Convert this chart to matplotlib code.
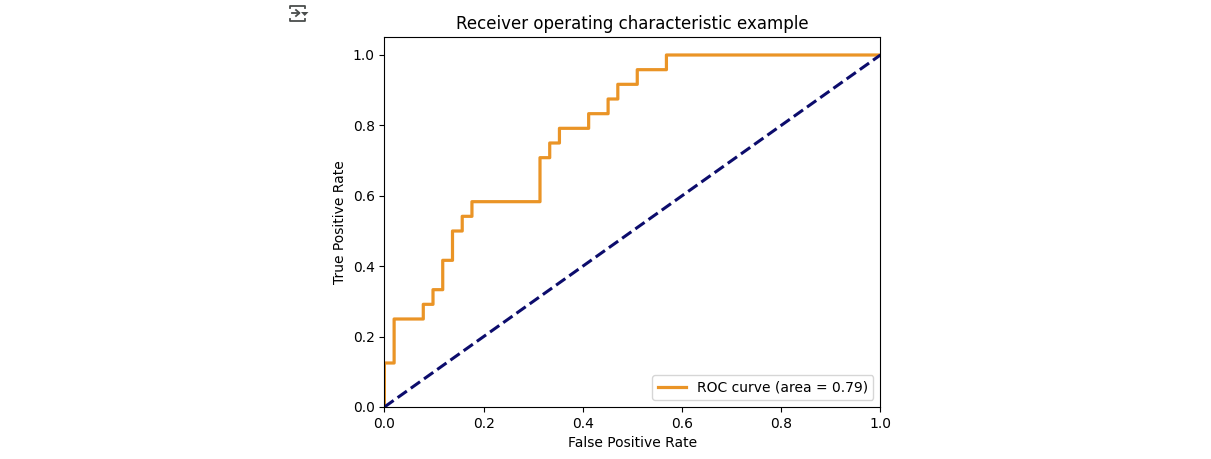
import matplotlib
matplotlib.use("Agg")
import matplotlib.pyplot as plt
from matplotlib.lines import Line2D
from matplotlib.patches import Polygon

fpr = [0, 0, 0.0196, 0.0196, 0.0784, 0.0784, 0.098, 0.098, 0.1176, 0.1176, 0.1373, 0.1373,
       0.1569, 0.1569, 0.1765, 0.1765, 0.3137, 0.3137, 0.3333, 0.3333, 0.3529, 0.3529,
       0.4118, 0.4118, 0.451, 0.451, 0.4706, 0.4706, 0.5098, 0.5098, 0.5686, 0.5686, 1.0]
tpr = [0, 0.125, 0.125, 0.25, 0.25, 0.2917, 0.2917, 0.3333, 0.3333, 0.4167, 0.4167, 0.5,
       0.5, 0.5417, 0.5417, 0.5833, 0.5833, 0.7083, 0.7083, 0.75, 0.75, 0.7917,
       0.7917, 0.8333, 0.8333, 0.875, 0.875, 0.9167, 0.9167, 0.9583, 0.9583, 1.0, 1.0]
chance = [0, 1]
roc_auc = 0.79

W, H = 1211, 459


def add_icon(fig):
    # little output icon in the top left corner, given in pixels
    col = "#4a4d4c"
    paths = [
        ([290, 290, 304.5, 304.5], [7.8, 5.7, 5.7, 7.8]),
        ([290, 290, 304.5, 304.5], [18.5, 20.6, 20.6, 18.5]),
        ([291.5, 299], [13, 13]),
        ([296, 299.5, 296], [10, 13, 16]),
    ]
    for xs, ys in paths:
        fig.add_artist(Line2D([x / W for x in xs], [1 - y / H for y in ys],
                              color=col, lw=1.3, transform=fig.transFigure))
    tri = [(301 / W, 1 - 12 / H), (308.5 / W, 1 - 12 / H), (304.7 / W, 1 - 16 / H)]
    fig.add_artist(Polygon(tri, closed=True, color=col, lw=0, transform=fig.transFigure))


fig = plt.figure(figsize=(W / 100, H / 100), dpi=100)
ax = fig.add_axes([384.4 / W, (H - 407) / H, (880 - 384) / W, (407 - 37.4) / H])

ax.plot(fpr, tpr, color="#ea9426", lw=2.3, snap=False, label="ROC curve (area = %0.2f)" % roc_auc)
ax.plot(chance, chance, color="#0c0c6c", lw=2.2, linestyle="--")
ax.set_xlim([0.0, 1.0])
ax.set_ylim([0.0, 1.05])
ax.set_xlabel("False Positive Rate")
ax.set_ylabel("True Positive Rate")
ax.set_title("Receiver operating characteristic example")
ax.legend(loc="lower right")

add_icon(fig)
fig.savefig("out.png", dpi=100)
